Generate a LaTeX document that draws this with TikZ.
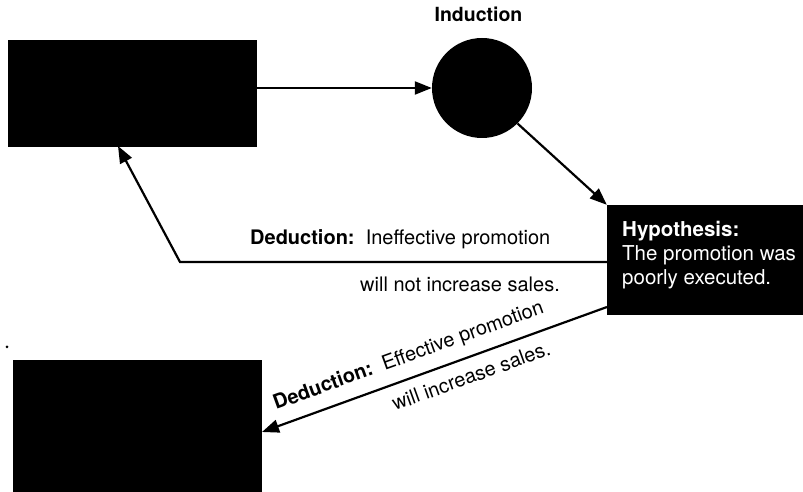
\documentclass[tikz,border=0pt]{standalone}
\usepackage{fontspec}
\setmainfont{TeX Gyre Heros}
\usetikzlibrary{arrows.meta}
\begin{document}
\begin{tikzpicture}[x=1pt,y=1pt,
  blk/.style={rectangle, fill=black, draw=none, inner sep=0pt},
  arr/.style={line width=2.2pt, -{Triangle[length=17pt,width=13pt]}},
  lbl/.style={inner sep=0pt, font=\fontsize{20}{24}\selectfont},
  wlbl/.style={lbl, text=white, anchor=base west}]
\useasboundingbox (0,0) rectangle (803,492);
% boxes
\node[blk, minimum width=249pt, minimum height=107pt] (box1) at (132.5,398.5) {};
\node[circle, fill=black, inner sep=0pt, minimum size=100pt] (circ) at (482,404) {};
\node[blk, minimum width=196pt, minimum height=110pt] (hyp) at (705,232) {};
\node[blk, minimum width=249pt, minimum height=132pt] (box2) at (137.5,66) {};
% labels
\node[lbl, anchor=base, font=\fontsize{19.5}{24}\selectfont\bfseries] (ind) at (478.5,470) {Induction};
\node[wlbl, font=\fontsize{20.5}{24}\selectfont\bfseries] (h1) at (622,255) {Hypothesis:};
\node[wlbl, font=\fontsize{20.5}{24}\selectfont] (h2) at (622,231) {The promotion was};
\node[wlbl, font=\fontsize{20.5}{24}\selectfont] (h3) at (622,207) {poorly executed.};
\node[lbl, anchor=base west] (d1a) at (250,247) {\textbf{Deduction:}\ \ Ineffective promotion};
\node[lbl, anchor=base west] (d1b) at (360,200) {will not increase sales.};
\node[lbl, anchor=base west, rotate=19.9] (d2a) at (276,82) {\textbf{Deduction:}\ \ Effective promotion};
\node[lbl, anchor=base west, rotate=19.9] (d2b) at (395,81) {will increase sales.};
% connectors
\coordinate (bend) at (180,230);
\coordinate (t1) at (118,346);
\coordinate (s2) at (607,185);
\coordinate (t2) at (262,60);
\draw[arr] (circ.west -| box1.east) -- (circ.west);
\draw[arr] (circ.-45) -- (hyp.north west);
\draw[arr] (hyp.west |- bend) -- (bend) -- (t1);
\draw[arr] (s2) -- (t2);
% stray dot
\fill (7,145) circle (1.5pt);
\end{tikzpicture}
\end{document}
